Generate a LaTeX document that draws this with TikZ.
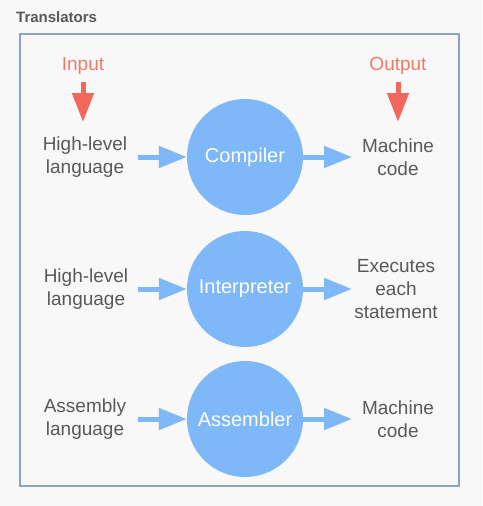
\documentclass[tikz,border=0pt]{standalone}
\usepackage{fontspec}
\setmainfont{Liberation Sans}
\usetikzlibrary{arrows.meta}
\definecolor{bg}{HTML}{F8F8F8}
\definecolor{frameC}{HTML}{8EA2BE}
\definecolor{txt}{HTML}{595959}
\definecolor{salmon}{HTML}{F27A69}
\definecolor{redA}{HTML}{F2685C}
\definecolor{blueC}{HTML}{7EB8F8}
\tikzset{
  lbl/.style={align=center, text=txt, font=\fontsize{19}{23}\selectfont, inner sep=0pt},
  io/.style={text=salmon, font=\fontsize{19}{23}\selectfont, inner sep=0pt},
  proc/.style={circle, fill=blueC, draw=none, minimum size=116pt, inner sep=0pt, text=white, font=\fontsize{20}{23}\selectfont},
  barrow/.style={draw=blueC, line width=5pt, -{Triangle[length=28pt,width=21pt]}},
  rarrow/.style={draw=redA, line width=5pt, -{Triangle[length=29pt,width=21pt]}},
}
\begin{document}
\begin{tikzpicture}[x=1pt,y=-1pt]
\useasboundingbox[fill=bg] (0,0) rectangle (482,506);
\node[anchor=west, text=txt, font=\bfseries\fontsize{15}{17}\selectfont, inner sep=0pt] (title) at (16,17) {Translators};
\draw[frameC, line width=1.5pt] (20,34) rectangle (459,486);

% Input / Output
\node[io] (in) at (83,66) {Input};
\node[io] (out) at (398,66) {Output};
\coordinate (inS) at (83,82);
\coordinate (inE) at (83,122);
\coordinate (outS) at (398,82);
\coordinate (outE) at (398,122);
\draw[rarrow] (inS) -- (inE);
\draw[rarrow] (outS) -- (outE);

% Row 1
\node[proc] (c1) at (245,157) {Compiler};
\node[lbl] (l1) at (85,157) {High-level\\language};
\node[lbl] (r1) at (398,157) {Machine\\code};
\coordinate (a1) at (138,157);
\coordinate (b1) at (352,157);
\draw[barrow] (a1) -- (c1.west);
\draw[barrow] (c1.east) -- (b1);

% Row 2
\node[proc] (c2) at (245,289) {Interpreter};
\node[lbl] (l2) at (86,289) {High-level\\language};
\node[lbl] (r2) at (396,289) {Executes\\each\\statement};
\coordinate (a2) at (138,289);
\coordinate (b2) at (352,289);
\draw[barrow] (a2) -- (c2.west);
\draw[barrow] (c2.east) -- (b2);

% Row 3
\node[proc] (c3) at (245,419) {Assembler};
\node[lbl] (l3) at (85,419) {Assembly\\language};
\node[lbl] (r3) at (398,419) {Machine\\code};
\coordinate (a3) at (138,419);
\coordinate (b3) at (352,419);
\draw[barrow] (a3) -- (c3.west);
\draw[barrow] (c3.east) -- (b3);
\end{tikzpicture}
\end{document}
